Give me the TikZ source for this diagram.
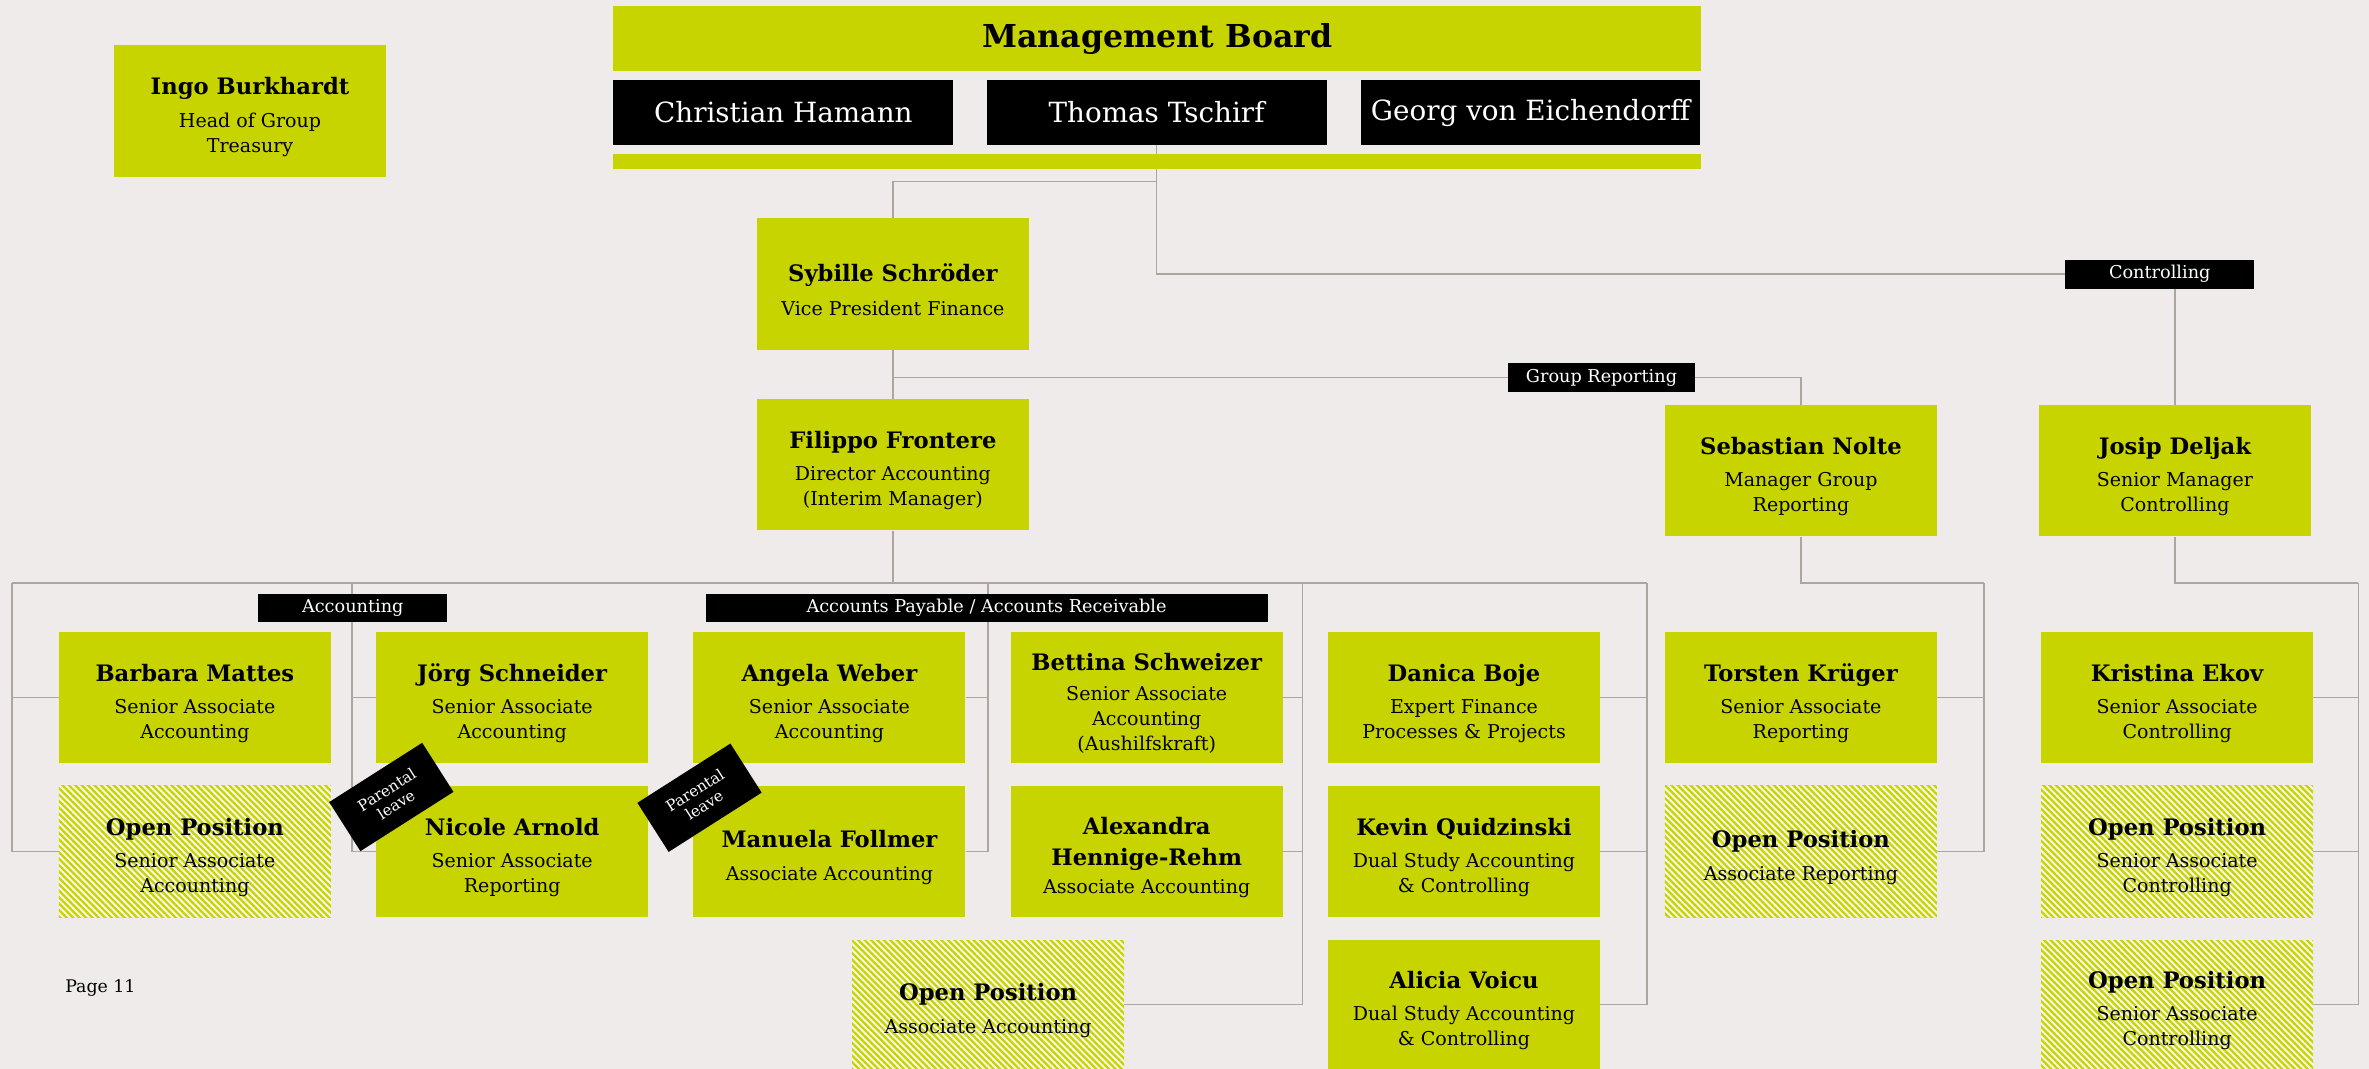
\documentclass[tikz,border=0pt]{standalone}
\usepackage{fontspec}
\setmainfont{DejaVu Serif}
\usetikzlibrary{patterns.meta}
\definecolor{bgc}{RGB}{238,235,234}
\definecolor{grn}{RGB}{200,212,0}
\definecolor{lnc}{RGB}{172,165,160}
\definecolor{openbg}{RGB}{246,246,232}
\newcommand\nmf{\fontsize{15}{20}\selectfont\bfseries}
\newcommand\rlf{\fontsize{12.6}{16.5}\selectfont}
\pgfdeclarelayer{back}
\pgfdeclarelayer{lines}
\pgfsetlayers{back,lines,main}
% \pers[box options]{name}{x,y}{text}
\newcommand\pers[4][]{%
  \node[pbox,#1] (#2) at (#3) {};
  \node[ptext] (#2t) at ([yshift=-4pt]#2.center) {#4};}
\begin{document}
\begin{tikzpicture}[x=1pt,y=-1pt,
  pbox/.style={fill=grn, minimum width=180, minimum height=87, inner sep=0pt},
  lowbox/.style={anchor=north, minimum height=85.5},
  ptext/.style={inner sep=0pt, align=center, font=\rlf},
  openpos/.style={fill=openbg, postaction={pattern={Lines[angle=-45,distance=3pt,line width=1.5pt]}, pattern color=grn}},
  boardname/.style={fill=black, text=white, minimum width=225, minimum height=43, inner sep=0pt, font=\fontsize{18.4}{21}\selectfont},
  lbl/.style={fill=black, text=white, minimum height=19, inner sep=0pt, font=\fontsize{11.7}{13}\selectfont},
  tagbox/.style={fill=black, text=white, minimum width=73, minimum height=38.5, inner sep=1pt, align=center, font=\fontsize{10.2}{11.5}\selectfont},
  conn/.style={draw=lnc, line width=1pt}
]
\useasboundingbox (0,0) rectangle (1568,707.5);
\begin{pgfonlayer}{back}
\fill[bgc] (0,0) rectangle (1568,707.5);
\end{pgfonlayer}

% top
\node[fill=grn, minimum width=720, minimum height=43, inner sep=0pt, font=\fontsize{20.9}{24}\selectfont\bfseries] (board) at (766,25.5) {Management Board};
\node[boardname] (ch) at (518.5,74.5) {Christian Hamann};
\node[boardname] (tt) at (765.5,74.5) {Thomas Tschirf};
\node[boardname] (gv) at (1013,74.5) {Georg von Eichendorff};
\node[fill=grn, minimum width=720, minimum height=10, inner sep=0pt] (bar2) at (766,107) {};

\pers{ingo}{165.5,73.5}{{\nmf Ingo Burkhardt}\\[5pt]Head of Group\\Treasury}
\pers{syb}{591,188}{{\nmf Sybille Schröder}\\[6pt]Vice President Finance}
\pers{fil}{591,307.5}{{\nmf Filippo Frontere}\\[5pt]Director Accounting\\(Interim Manager)}
\pers{seb}{1192,311.5}{{\nmf Sebastian Nolte}\\[5pt]Manager Group\\Reporting}
\pers{jos}{1439.5,311.5}{{\nmf Josip Deljak}\\[5pt]Senior Manager\\Controlling}

\node[lbl, minimum width=125] (ctrl) at (1429.5,181.5) {Controlling};
\node[lbl, minimum width=124] (grp) at (1060,250) {Group Reporting};
\node[lbl, minimum width=125] (acc) at (233.5,402.5) {Accounting};
\node[lbl, minimum width=372] (apar) at (653,402.5) {Accounts Payable / Accounts Receivable};

% row 1
\pers{bar}{129,461.5}{{\nmf Barbara Mattes}\\[5pt]Senior Associate\\Accounting}
\pers{jor}{339,461.5}{{\nmf Jörg Schneider}\\[5pt]Senior Associate\\Accounting}
\pers{ang}{549,461.5}{{\nmf Angela Weber}\\[5pt]Senior Associate\\Accounting}
\pers{bet}{759,461.5}{{\nmf Bettina Schweizer}\\[4pt]Senior Associate\\Accounting\\(Aushilfskraft)}
\pers{dan}{969,461.5}{{\nmf Danica Boje}\\[5pt]Expert Finance\\Processes \& Projects}
\pers{tor}{1192,461.5}{{\nmf Torsten Krüger}\\[5pt]Senior Associate\\Reporting}
\pers{kri}{1441,461.5}{{\nmf Kristina Ekov}\\[5pt]Senior Associate\\Controlling}

% row 2
\pers[openpos]{op1}{129,563.5}{{\nmf Open Position}\\[5pt]Senior Associate\\Accounting}
\pers{nic}{339,563.5}{{\nmf Nicole Arnold}\\[5pt]Senior Associate\\Reporting}
\pers{man}{549,563.5}{{\nmf Manuela Follmer}\\[5pt]Associate Accounting}
\pers{ale}{759,563.5}{{\nmf Alexandra}\\[4pt]{\nmf Hennige-Rehm}\\[2pt]Associate Accounting}
\pers{kev}{969,563.5}{{\nmf Kevin Quidzinski}\\[5pt]Dual Study Accounting\\\& Controlling}
\pers[openpos]{op3}{1192,563.5}{{\nmf Open Position}\\[5pt]Associate Reporting}
\pers[openpos]{op4}{1441,563.5}{{\nmf Open Position}\\[5pt]Senior Associate\\Controlling}

% row 3
\pers[openpos,lowbox]{op2}{654,622}{{\nmf Open Position}\\[5pt]Associate Accounting}
\pers[lowbox]{ali}{969,622}{{\nmf Alicia Voicu}\\[5pt]Dual Study Accounting\\\& Controlling}
\pers[openpos,lowbox]{op5}{1441,622}{{\nmf Open Position}\\[5pt]Senior Associate\\Controlling}

% tags
\node[tagbox, rotate=32.5] (tagA) at (259,527.5) {Parental\\leave};
\node[tagbox, rotate=32.5] (tagB) at (463,528) {Parental\\leave};

\node[anchor=west, inner sep=0pt, font=\fontsize{11.5}{13}\selectfont] (pg) at (43,654) {Page 11};

% connectors
\coordinate (j1) at (765.5,120);
\coordinate (j2) at (591,250);
\coordinate (j3) at (591,386);
\coordinate (vA) at (8,386);
\coordinate (vB) at (233,386);
\coordinate (vC) at (654,386);
\coordinate (vD) at (862,386);
\coordinate (vE) at (1090,386);
\coordinate (sF) at (1313,386);
\coordinate (sG) at (1561,386);
\begin{pgfonlayer}{lines}
\draw[conn] (tt.south) |- (ctrl.west);
\draw[conn] (j1) -| (syb.north);
\draw[conn] (ctrl.south -| jos.north) -- (jos.north);
\draw[conn] (syb.south) -- (fil.north);
\draw[conn] (j2) -- (grp.west);
\draw[conn] (grp.east) -| (seb.north);
\draw[conn] (fil.south) -- (j3);
\draw[conn, line width=1.4pt] (vA) -- (vE);
\draw[conn] (vA) |- (op1.west);
\draw[conn] (vA |- bar.west) -- (bar.west);
\draw[conn] (vB) |- (nic.west);
\draw[conn] (vB |- jor.west) -- (jor.west);
\draw[conn] (vC) |- (man.east);
\draw[conn] (vC |- ang.east) -- (ang.east);
\draw[conn] (vD) |- (op2.east);
\draw[conn] (vD |- bet.east) -- (bet.east);
\draw[conn] (vD |- ale.east) -- (ale.east);
\draw[conn] (vE) |- (ali.east);
\draw[conn] (vE |- dan.east) -- (dan.east);
\draw[conn] (vE |- kev.east) -- (kev.east);
\draw[conn, line width=1.4pt] (seb.south) |- (sF);
\draw[conn] (sF) |- (op3.east);
\draw[conn] (sF |- tor.east) -- (tor.east);
\draw[conn, line width=1.4pt] (jos.south) |- (sG);
\draw[conn] (sG) |- (op5.east);
\draw[conn] (sG |- kri.east) -- (kri.east);
\draw[conn] (sG |- op4.east) -- (op4.east);
\end{pgfonlayer}
\end{tikzpicture}
\end{document}
